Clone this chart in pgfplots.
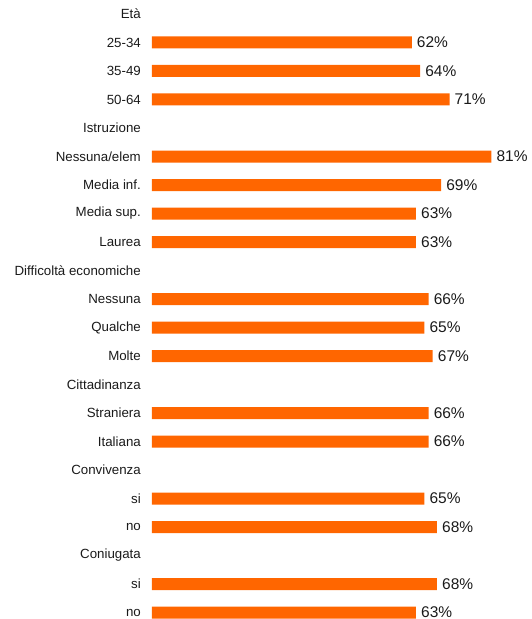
\documentclass[border=0pt]{standalone}
\usepackage{pgfplots}
\pgfplotsset{compat=1.18}
\usepackage{fontspec}
\setmainfont{Liberation Sans}
\definecolor{barorange}{HTML}{FF6600}
\definecolor{txt}{HTML}{1A1A1A}
\begin{document}
\begin{tikzpicture}[x=1pt,y=1pt]
\begin{axis}[
  at={(152pt,0pt)}, anchor=south west,
  scale only axis,
  width=379pt, height=619pt,
  xmin=0, xmax=90.45,
  ymin=-0.491, ymax=21.228,
  y dir=reverse,
  xbar, bar width=12pt,
  axis line style={draw=none},
  xtick=\empty,
  clip=false,
  /pgf/number format/assume math mode=true,
  ytick={0,...,21},
  yticklabels={Età,25-34,35-49,50-64,Istruzione,Nessuna/elem,Media inf.,Media sup.,Laurea,Difficoltà economiche,Nessuna,Qualche,Molte,Cittadinanza,Straniera,Italiana,Convivenza,si,no,Coniugata,si,no},
  major tick length=0pt,
  ytick style={draw=none},
  y tick label style={font=\fontsize{13.3}{15}\selectfont, text=txt, inner sep=0pt, anchor=east},
  yticklabel shift=11pt,
  nodes near coords={\pgfmathprintnumber{\pgfplotspointmeta}\%},
  nodes near coords style={font=\fontsize{15.5}{17}\selectfont, text=txt, anchor=west, inner sep=0pt, xshift=5pt},
  point meta=x,
]
\addplot[fill=barorange, draw=none] coordinates {
(62,1) (64,2) (71,3)
(81,5) (69,6) (63,7) (63,8)
(66,10) (65,11) (67,12)
(66,14) (66,15)
(65,17) (68,18)
(68,20) (63,21)
};
\end{axis}
\pgfresetboundingbox
\path (0,0) rectangle (531pt,619pt);
\end{tikzpicture}
\end{document}
